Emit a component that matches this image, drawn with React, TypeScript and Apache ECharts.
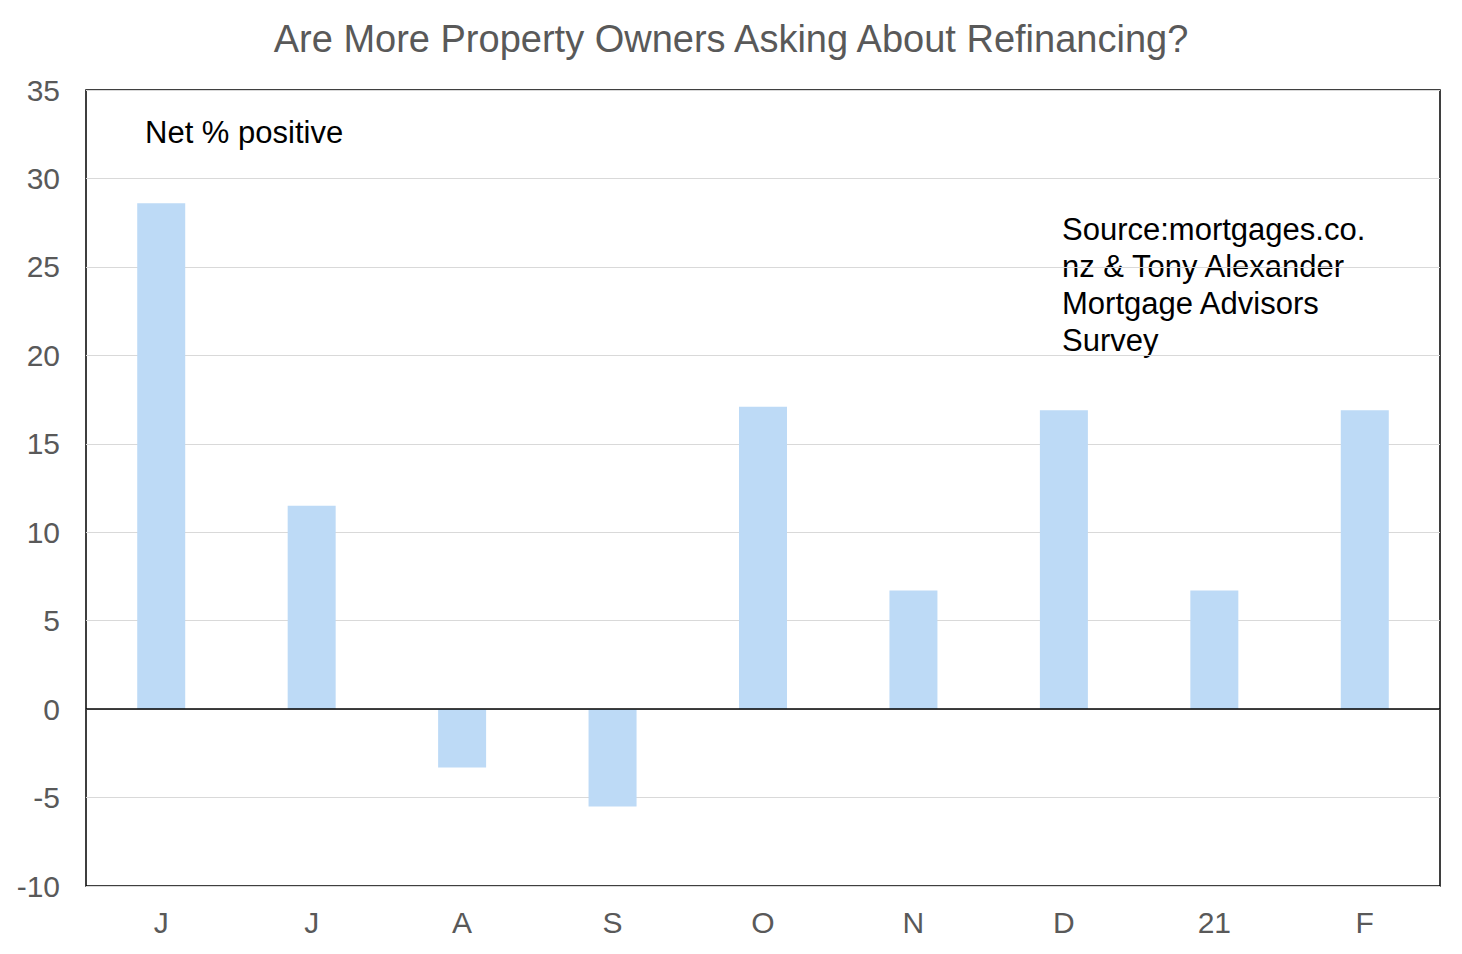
import React, { useEffect, useRef } from "react";
import * as echarts from "echarts";

const categories = ["J", "J", "A", "S", "O", "N", "D", "21", "F"];
const netPositive = [28.6, 11.5, -3.3, -5.5, 17.1, 6.7, 16.9, 6.7, 16.9];
const yMin = -10;
const yMax = 35;
const yInterval = 5;

const FONT = "'Liberation Sans', Arial, sans-serif";

export default function App() {
  const ref = useRef<HTMLDivElement>(null);
  useEffect(() => {
    document.body.style.margin = "0";
    const chart = echarts.init(ref.current!, undefined, { renderer: "svg" });
    chart.setOption({
      animation: false,
      backgroundColor: "#ffffff",
      title: {
        text: "Are More Property Owners Asking About Refinancing?",
        left: "center",
        top: 15,
        textStyle: { fontFamily: FONT, fontSize: 38, fontWeight: "normal", color: "#595959" },
      },
      grid: {
        left: 86,
        right: 22,
        top: 90,
        bottom: 68,
        show: true,
        borderColor: "#000000",
        borderWidth: 1.5,
        backgroundColor: "transparent",
      },
      xAxis: {
        type: "category",
        data: categories,
        axisLine: { show: false },
        axisTick: { show: false },
        axisLabel: { fontFamily: FONT, fontSize: 30, color: "#595959", margin: 21 },
      },
      yAxis: {
        type: "value",
        min: yMin,
        max: yMax,
        interval: yInterval,
        axisLine: { show: false },
        axisTick: { show: false },
        splitLine: { lineStyle: { color: "#d9d9d9", width: 1 } },
        axisLabel: { fontFamily: FONT, fontSize: 30, color: "#595959", margin: 26 },
      },
      series: [
        {
          type: "bar",
          data: netPositive,
          barWidth: 48,
          itemStyle: { color: "#BDDAF6" },
          markLine: {
            silent: true,
            symbol: "none",
            label: { show: false },
            lineStyle: { color: "#000000", width: 1.5, type: "solid" },
            data: [{ yAxis: 0 }],
          },
        },
      ],
      graphic: [
        {
          type: "text",
          left: 145,
          top: 117,
          style: { text: "Net % positive", fontFamily: FONT, fontSize: 31, fill: "#000000" },
        },
        {
          type: "text",
          left: 1062,
          top: 211,
          style: {
            text: "Source:mortgages.co.\nnz & Tony Alexander\nMortgage Advisors\nSurvey",
            fontFamily: FONT,
            fontSize: 31,
            lineHeight: 37,
            fill: "#000000",
          },
        },
      ],
    });
    return () => chart.dispose();
  }, []);
  return <div ref={ref} style={{ width: 1462, height: 954 }} />;
}
